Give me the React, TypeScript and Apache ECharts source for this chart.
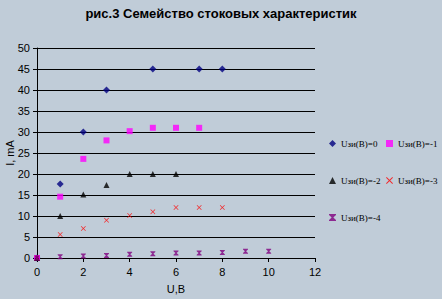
import React, { useEffect, useRef } from "react";
import * as echarts from "echarts";

const TITLE = "рис.3 Семейство стоковых характеристик";
const SERIES_NAMES = ["Uзи(В)=0", "Uзи(В)=-1", "Uзи(В)=-2", "Uзи(В)=-3", "Uзи(В)=-4"];

const s0: [number, number][] = [[0, 0], [1, 17.6], [2, 30], [3, 40], [5, 45], [7, 45], [8, 45]];
const s1: [number, number][] = [[0, 0], [1, 14.6], [2, 23.6], [3, 28], [4, 30.2], [5, 31], [6, 31], [7, 31]];
const s2: [number, number][] = [[0, 0], [1, 10], [2, 15.1], [3, 17.4], [4, 20], [5, 20], [6, 20]];
const s3: [number, number][] = [[0, 0], [1, 5.6], [2, 7], [3, 9], [4, 10.1], [5, 11], [6, 12], [7, 12], [8, 12]];
const s4: [number, number][] = [[0, 0], [1, 0.3], [2, 0.5], [3, 0.6], [4, 0.9], [5, 1], [6, 1.2], [7, 1.2], [8, 1.3], [9, 1.6], [10, 1.6]];

const X_TICKS = { min: 0, max: 12, interval: 2 };
const Y_TICKS = { min: 0, max: 50, interval: 5 };

const CROSS = "path://M0,1 L1,0 L5,4 L9,0 L10,1 L6,5 L10,9 L9,10 L5,6 L1,10 L0,9 L4,5 Z";
const STAR = "path://M0,0 L10,0 L10,1.5 L6.2,5 L10,8.5 L10,10 L0,10 L0,8.5 L3.8,5 L0,1.5 Z";

export default function App() {
  const ref = useRef<HTMLDivElement>(null);
  useEffect(() => {
    const chart = echarts.init(ref.current!, null, { renderer: "svg" });
    const bg = "#C0CCD8";
    const legendText = { fontFamily: "Liberation Serif", fontSize: 9, color: "#000" };
    const legendPos = [
      [329, 139],
      [386, 139],
      [329, 176],
      [386, 176],
      [329, 213],
    ];
    chart.setOption({
      animation: false,
      backgroundColor: bg,
      title: {
        text: TITLE,
        left: "center",
        top: 2,
        textStyle: { fontFamily: "Liberation Sans", fontSize: 13, fontWeight: "bold", color: "#000" },
      },
      legend: SERIES_NAMES.map((n, i) => ({
        data: [n],
        left: legendPos[i][0],
        top: legendPos[i][1],
        itemWidth: 7,
        itemHeight: 7,
        padding: 0,
        itemGap: 0,
        textStyle: legendText,
      })),
      grid: { left: 37, right: 127, top: 48, bottom: 41, outerBoundsMode: "none", containLabel: false },
      xAxis: {
        type: "value",
        ...X_TICKS,
        name: "U,В",
        nameLocation: "middle",
        nameGap: 25,
        nameMoveOverlap: false,
        nameTextStyle: { fontFamily: "Liberation Sans", fontSize: 11, color: "#000" },
        axisLine: { lineStyle: { color: "#000" } },
        axisTick: { lineStyle: { color: "#000" }, length: 4 },
        axisLabel: { fontFamily: "Liberation Sans", fontSize: 11, color: "#000", margin: 8 },
        splitLine: { show: false },
      },
      yAxis: {
        type: "value",
        ...Y_TICKS,
        name: "I, mA",
        nameLocation: "middle",
        nameGap: 22,
        nameMoveOverlap: false,
        nameTextStyle: { fontFamily: "Liberation Sans", fontSize: 11, color: "#000" },
        axisLine: { show: true, lineStyle: { color: "#000" } },
        axisTick: { show: true, lineStyle: { color: "#000" }, length: 4 },
        axisLabel: { fontFamily: "Liberation Sans", fontSize: 11, color: "#000", margin: 7 },
        splitLine: { show: true, lineStyle: { color: "#000", width: 1 } },
      },
      series: [
        { name: SERIES_NAMES[0], type: "scatter", data: s0, symbol: "diamond", symbolSize: 7, itemStyle: { color: "#000080" } },
        { name: SERIES_NAMES[1], type: "scatter", data: s1, symbol: "rect", symbolSize: 6, itemStyle: { color: "#FF00FF" } },
        { name: SERIES_NAMES[2], type: "scatter", data: s2, symbol: "triangle", symbolSize: 6, itemStyle: { color: "#000000" } },
        { name: SERIES_NAMES[3], type: "scatter", data: s3, symbol: CROSS, symbolSize: 5, itemStyle: { color: "#FF0000" } },
        { name: SERIES_NAMES[4], type: "scatter", data: s4, symbol: STAR, symbolSize: 5, itemStyle: { color: "#800080" } },
      ],
    });
    return () => chart.dispose();
  }, []);
  return <div ref={ref} style={{ width: 442, height: 299, position: "absolute", left: 0, top: 0 }} />;
}
